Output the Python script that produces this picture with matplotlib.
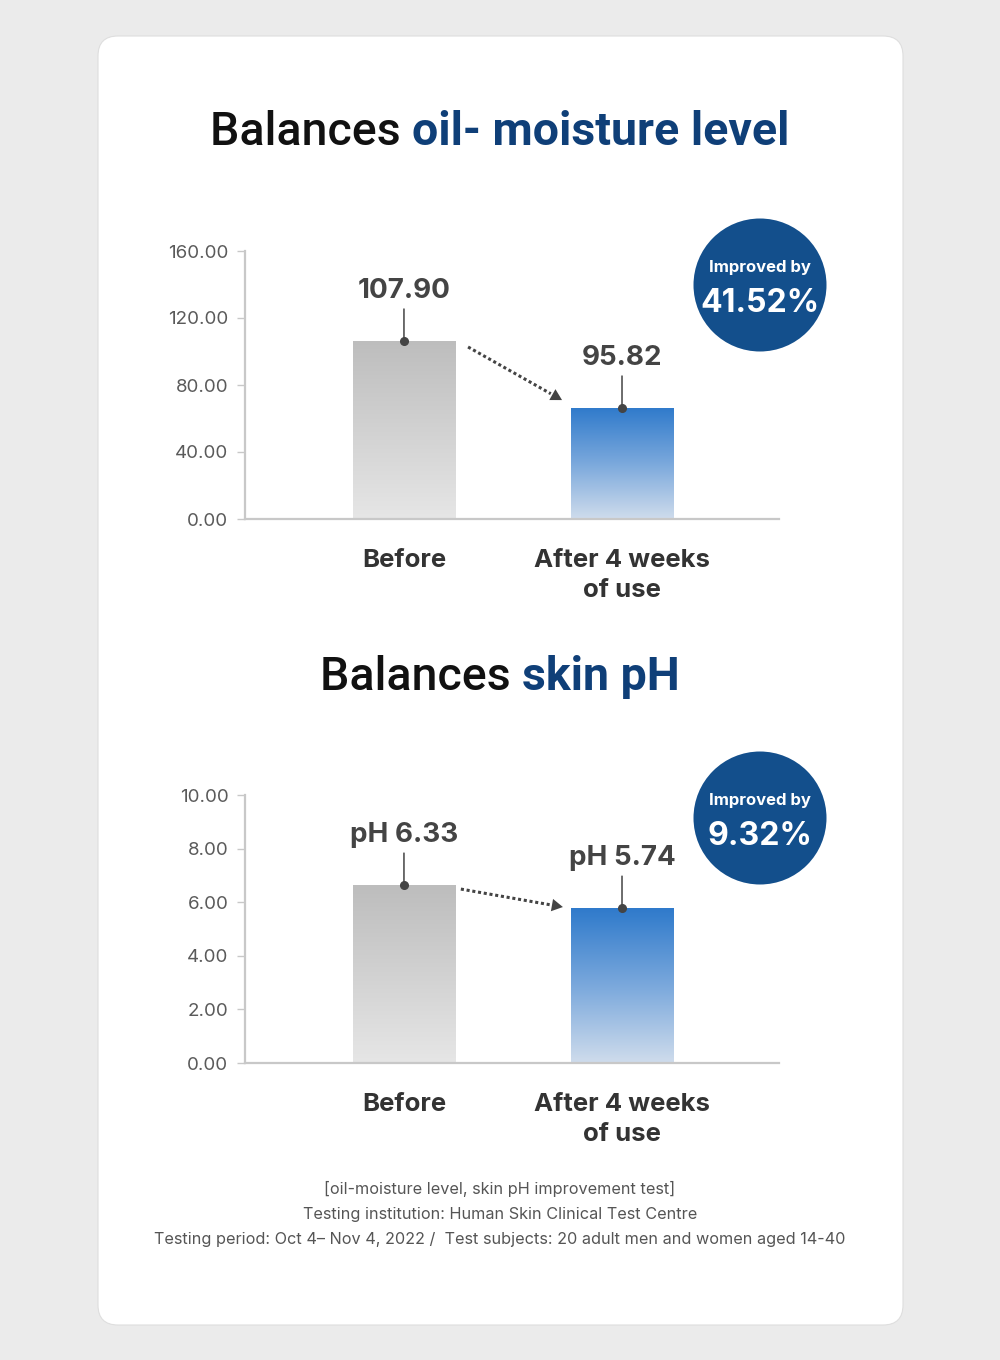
import matplotlib
matplotlib.use("Agg")
import matplotlib.pyplot as plt
import numpy as np
from matplotlib.patches import FancyBboxPatch, Circle
from matplotlib.colors import LinearSegmentedColormap

plt.rcParams['font.family'] = ['Inter', 'DejaVu Sans']

# ---------------- data ----------------
categories = ["Before", "After 4 weeks\nof use"]

oil_bar_heights = [106.3, 66.3]          # drawn bar heights
oil_value_labels = ["107.90", "95.82"]
oil_ticks = [0, 40, 80, 120, 160]
oil_tick_labels = ["0.00", "40.00", "80.00", "120.00", "160.00"]
oil_improvement = "41.52%"

ph_bar_heights = [6.64, 5.78]
ph_value_labels = ["pH 6.33", "pH 5.74"]
ph_ticks = [0, 2, 4, 6, 8, 10]
ph_tick_labels = ["0.00", "2.00", "4.00", "6.00", "8.00", "10.00"]
ph_improvement = "9.32%"

title1 = ("Balances ", "oil- moisture level")
title2 = ("Balances ", "skin pH")
footer = ["[oil-moisture level, skin pH improvement test]",
          "Testing institution: Human Skin Clinical Test Centre",
          "Testing period: Oct 4\u2013 Nov 4, 2022 /  Test subjects: 20 adult men and women aged 14-40"]

# ---------------- style ----------------
W, H = 10.0, 13.6
BG = "#ebebeb"
NAVY = "#134f8c"
TITLE_BLUE = "#0f3f78"
DARK = "#444444"
AXIS = "#c8c8c8"

fig = plt.figure(figsize=(W, H), dpi=100)
fig.patch.set_facecolor(BG)

card = FancyBboxPatch((0.98, 0.35), 8.05, 12.89,
                      boxstyle="round,pad=0,rounding_size=0.2",
                      transform=fig.dpi_scale_trans, facecolor="white",
                      edgecolor="#dedede", linewidth=0.8, zorder=0)
fig.add_artist(card)

gray_cmap = LinearSegmentedColormap.from_list("g", ["#e6e6e6", "#bdbdbd"])
blue_cmap = LinearSegmentedColormap.from_list("b", ["#cfdcec", "#7aa8dc", "#2f7acb"])


def gradient_bars(ax, xs, heights, width, cmaps):
    bars = ax.bar(xs, heights, width=width, color="none", edgecolor="none", zorder=2)
    grad = np.linspace(0, 1, 256).reshape(-1, 1)
    for b, cm in zip(bars, cmaps):
        x0, y0 = b.get_x(), b.get_y()
        w, h = b.get_width(), b.get_height()
        im = ax.imshow(grad, cmap=cm, origin="lower", aspect="auto",
                       extent=(x0, x0 + w, y0, y0 + h), zorder=2)
        im.set_clip_path(b)
    return bars


def make_panel(bottom_px, heights, labels, ticks, tick_labels, improvement,
               arrow_start, arrow_end, badge_center_px):
    left_px, right_px = 245, 779
    ax = fig.add_axes([left_px / 1000, 1 - bottom_px / 1360,
                       (right_px - left_px) / 1000, 268 / 1360])
    ax.set_facecolor("none")
    xs = np.arange(len(heights))
    ax.set_xlim(-0.729, 1.72)
    ax.set_ylim(ticks[0], ticks[-1])
    gradient_bars(ax, xs, heights, 0.468, [gray_cmap, blue_cmap])
    for s in ["top", "right"]:
        ax.spines[s].set_visible(False)
    for s in ["left", "bottom"]:
        ax.spines[s].set_color(AXIS)
        ax.spines[s].set_linewidth(1.6)
    ax.set_yticks(ticks)
    ax.set_yticklabels(tick_labels)
    ax.tick_params(axis="y", length=6, width=1, color=AXIS, labelsize=13.5,
                   labelcolor="#5a5a5a", pad=6)
    ax.set_xticks(xs)
    ax.set_xticklabels(categories, fontsize=18.5, fontweight="bold", color="#333333",
                       linespacing=1.38, va="top")
    ax.tick_params(axis="x", length=0, pad=21.5)
    for x, h, lab in zip(xs, heights, labels):
        ax.annotate("", xy=(x, h), xytext=(0, 23), textcoords="offset points",
                    arrowprops=dict(arrowstyle="-", lw=1.1, color=DARK,
                                    shrinkA=0, shrinkB=0), zorder=4)
        ax.plot([x], [h], "o", ms=5.5, color=DARK, zorder=5)
        ax.annotate(lab, xy=(x, h), xytext=(0, 31), textcoords="offset points",
                    ha="center", va="baseline", fontsize=20, fontweight="bold",
                    color=DARK, zorder=5)
    # dotted trend arrow
    (sx, sy), (ex, ey) = arrow_start, arrow_end
    fr = 0.88
    mx, my = sx + (ex - sx) * fr, sy + (ey - sy) * fr
    ax.plot([sx, mx], [sy, my], ls=(0, (1, 0.9)), lw=2.2, color=DARK, zorder=3)
    ax.annotate("", xy=(ex, ey), xytext=(sx, sy),
                arrowprops=dict(arrowstyle="-|>,head_length=0.8,head_width=0.45",
                                lw=0, color=DARK, shrinkA=0, shrinkB=0), zorder=3)
    # badge
    cx, cy = badge_center_px
    circ = Circle((cx / 100, (1360 - cy) / 100), 0.665, transform=fig.dpi_scale_trans,
                  facecolor=NAVY, edgecolor="none", zorder=6)
    fig.add_artist(circ)
    fig.text(cx / 1000, 1 - (cy - 13) / 1360, "Improved by", ha="center", va="baseline",
             color="white", fontsize=12, fontweight="bold", zorder=7)
    fig.text(cx / 1000, 1 - (cy + 27) / 1360, improvement, ha="center", va="baseline",
             color="white", fontsize=23, fontweight="bold", zorder=7)
    return ax


make_panel(519, oil_bar_heights, oil_value_labels, oil_ticks, oil_tick_labels,
           oil_improvement, (0.294, 102.7), (0.725, 71.0), (760, 285))
make_panel(1063, ph_bar_heights, ph_value_labels, ph_ticks, ph_tick_labels,
           ph_improvement, (0.261, 6.49), (0.729, 5.82), (760, 818))


def two_tone_title(parts, baseline_px, size):
    kw = dict(ha="left", va="baseline", fontsize=size, family=["Roboto", "DejaVu Sans"])
    t1 = fig.text(0.5, 1 - baseline_px / 1360, parts[0], fontweight="medium",
                  color="#111111", **kw)
    t2 = fig.text(0.5, 1 - baseline_px / 1360, parts[1], fontweight="bold",
                  color=TITLE_BLUE, **kw)
    fig.canvas.draw()
    r = fig.canvas.get_renderer()
    w1 = t1.get_window_extent(r).width
    w2 = t2.get_window_extent(r).width
    total = w1 + w2
    x0 = 500 - total / 2
    t1.set_x(x0 / 1000)
    t2.set_x((x0 + w1) / 1000)


two_tone_title(title1, 145, 33.5)
two_tone_title(title2, 690, 33.5)

for i, line in enumerate(footer):
    fig.text(0.5, 1 - (1194 + 25 * i) / 1360, line, ha="center", va="baseline",
             fontsize=11.7, color="#555555")

fig.savefig("out.png", dpi=100, facecolor=BG)
